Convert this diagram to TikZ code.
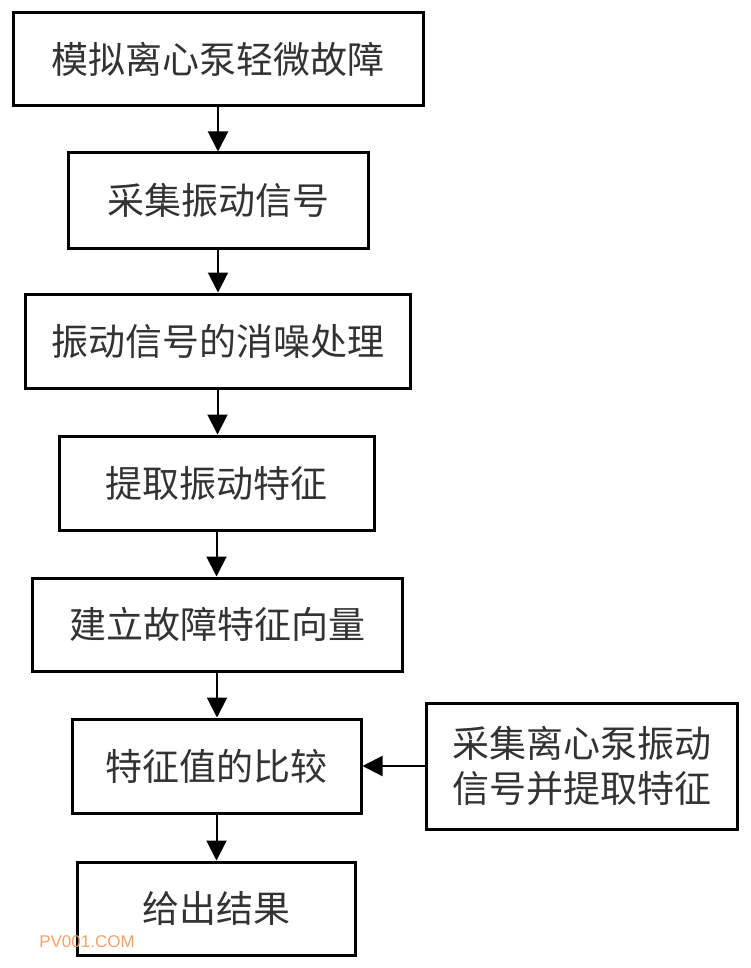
\documentclass[tikz,border=0pt]{standalone}
\usepackage{fontspec}
\newfontfamily\cjk{Noto Sans CJK SC}
\newfontfamily\wmfont{Liberation Sans}
\usetikzlibrary{arrows.meta}
\definecolor{wmorange}{HTML}{F2A26A}
\begin{document}
\begin{tikzpicture}[x=1pt,y=-1pt,
  box/.style={draw=black, line width=3pt, fill=white, inner sep=0pt, align=center,
    font=\cjk\fontsize{37}{45}\selectfont, text=black!80},
  arr/.style={line width=2pt, -{Triangle[length=20pt,width=20pt]}}]
\useasboundingbox (0,0) rectangle (750,968);
\node[box, minimum width=410pt, minimum height=93pt] (n1) at (218,59.5) {模拟离心泵轻微故障};
\node[box, minimum width=300pt, minimum height=95pt] (n2) at (218,200.5) {采集振动信号};
\node[box, minimum width=385pt, minimum height=94pt] (n3) at (217.5,341) {振动信号的消噪处理};
\node[box, minimum width=315pt, minimum height=94pt] (n4) at (216.5,483) {提取振动特征};
\node[box, minimum width=370pt, minimum height=93pt] (n5) at (217,624.5) {建立故障特征向量};
\node[box, minimum width=289pt, minimum height=94pt] (n6) at (216.5,766) {特征值的比较};
\node[box, minimum width=278pt, minimum height=93pt] (n7) at (216,908.5) {给出结果};
\node[box, minimum width=311pt, minimum height=126pt] (r) at (581.5,766) {采集离心泵振动\\信号并提取特征};
\draw[arr] (n1.south) -- (n1.south |- n2.north);
\draw[arr] (n2.south) -- (n2.south |- n3.north);
\draw[arr] (n3.south) -- (n3.south |- n4.north);
\draw[arr] (n4.south) -- (n4.south |- n5.north);
\draw[arr] (n5.south) -- (n5.south |- n6.north);
\draw[arr] (n6.south) -- (n6.south |- n7.north);
\draw[arr] (r.west) -- (n6.east);
\node[text=wmorange, font=\wmfont\fontsize{17}{20}\selectfont, inner sep=0pt] (wm) at (87,942) {PV001.COM};
\end{tikzpicture}
\end{document}
